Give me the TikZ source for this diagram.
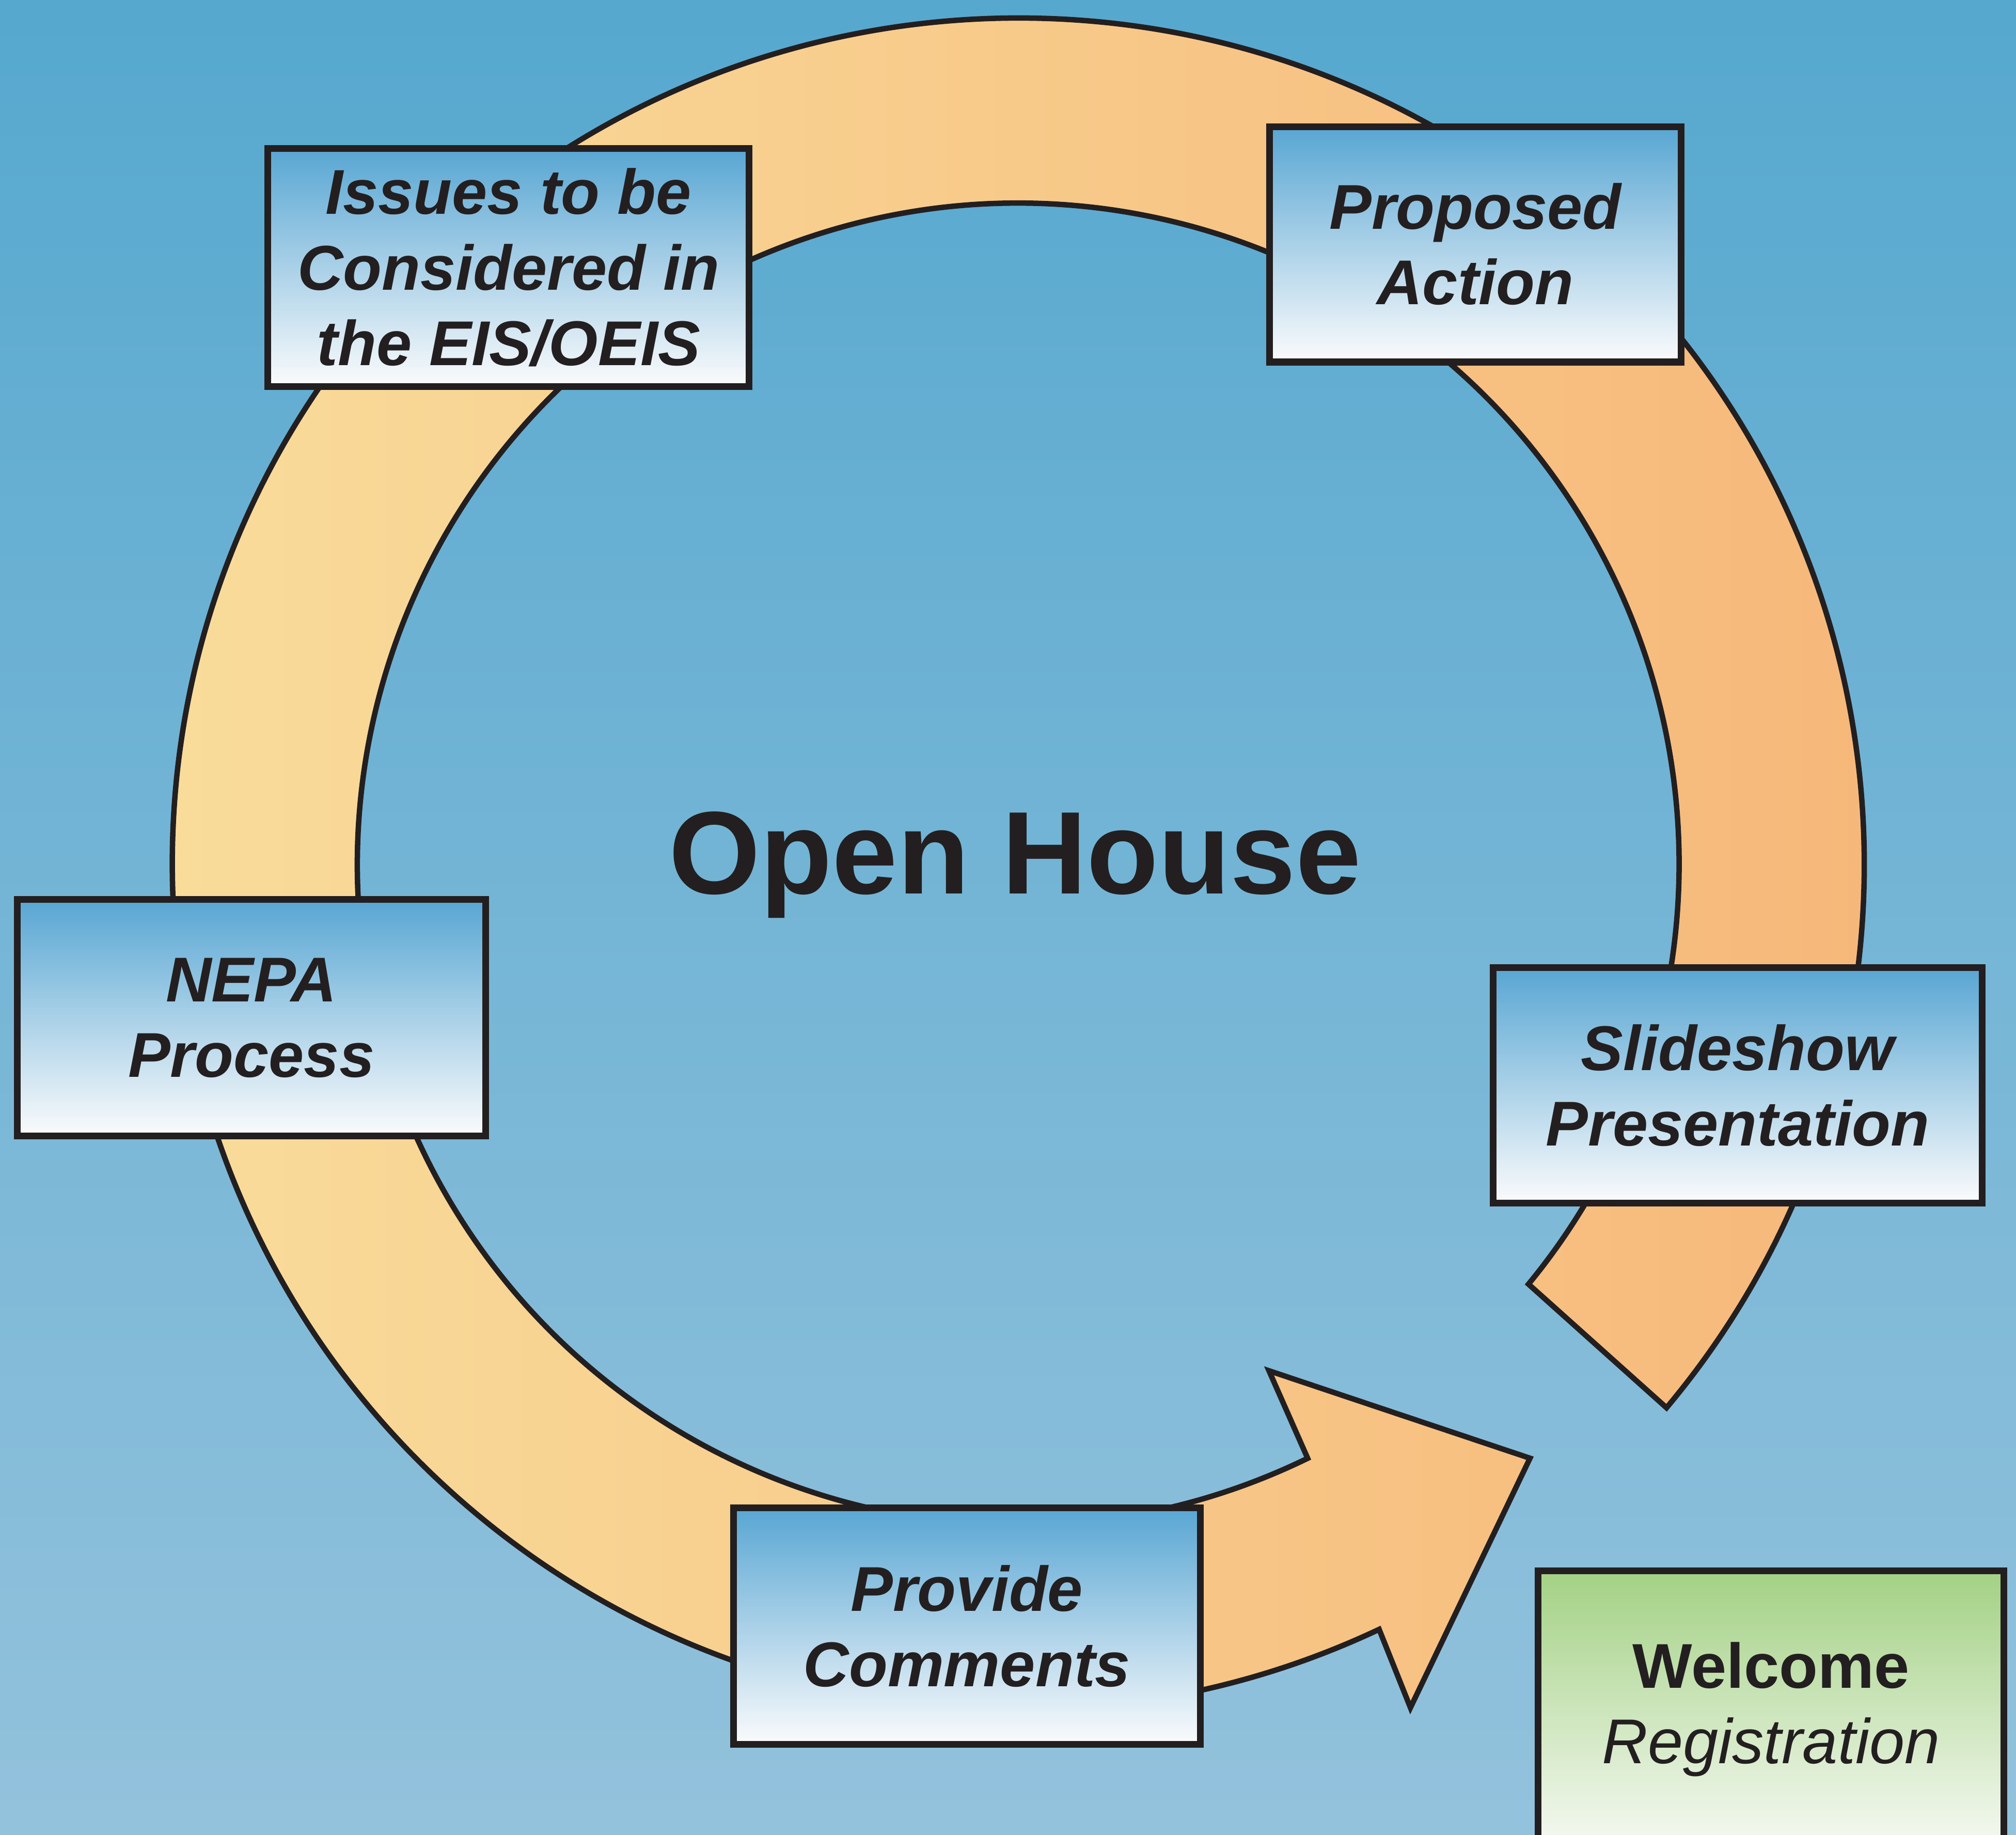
\documentclass[tikz,border=0pt]{standalone}
\usepackage{fontspec}
\setmainfont{Liberation Sans}
\usetikzlibrary{calc}

\definecolor{ink}{RGB}{35,31,32}
\definecolor{skytop}{RGB}{86,168,207}
\definecolor{skybot}{RGB}{147,194,220}
\definecolor{boxtop}{RGB}{88,166,211}
\definecolor{boxbot}{RGB}{251,251,252}
\definecolor{greentop}{RGB}{163,209,132}
\definecolor{greenbot}{RGB}{246,249,243}
\definecolor{ringleft}{RGB}{249,222,156}
\definecolor{ringright}{RGB}{246,182,120}

\tikzset{
	stage/.style={draw=ink, line width=1.5pt, top color=boxtop, bottom color=boxbot,
		text=ink, align=center, inner sep=0pt,
		font=\fontsize{14}{16.7}\selectfont\bfseries\itshape},
	welcome/.style={stage, top color=greentop, bottom color=greenbot},
	ring/.style={draw=ink, line width=1.2pt, line join=miter, left color=ringleft, right color=ringright}
}

\begin{document}
\begin{tikzpicture}[x=0.01cm,y=-0.01cm]
		
		\clip (0,0) rectangle (1568,1427);
		\fill[top color=skytop, bottom color=skybot] (0,0) rectangle (1568,1427);
		
		% the circular arrows
		\coordinate (c) at (792,672);
		\draw[ring] ($(c)+(64.03:514)$) arc[start angle=64.03, end angle=399.46, radius=514]
			-- ($(c)+(39.98:658)$) arc[start angle=399.98, end angle=64.75, radius=658]
			-- (1097,1328) -- (1190,1134) -- (987,1066) -- cycle;
		
		\node[font=\fontsize{26}{31}\selectfont\bfseries, text=ink, anchor=base] (title) at (789.5,695) {Open House};
		
		\node[stage, minimum width=3.74cm, minimum height=1.85cm] (issues) at (395.5,208) {Issues to be\\Considered in\\the EIS/OEIS};
		\node[stage, minimum width=3.20cm, minimum height=1.83cm] (proposed) at (1147.5,190) {Proposed\\Action};
		\node[stage, minimum width=3.64cm, minimum height=1.84cm] (nepa) at (195.5,791.5) {NEPA\\Process};
		\node[stage, minimum width=3.80cm, minimum height=1.83cm] (slides) at (1351.5,844) {Slideshow\\Presentation};
		\node[stage, minimum width=3.63cm, minimum height=1.84cm] (comments) at (752,1264.5) {Provide\\Comments};
		\node[welcome, minimum width=3.62cm, minimum height=2.16cm] (welcome) at (1377.5,1329.5) {{\upshape Welcome}\\{\mdseries Registration}};
		
	\end{tikzpicture}
\end{document}
